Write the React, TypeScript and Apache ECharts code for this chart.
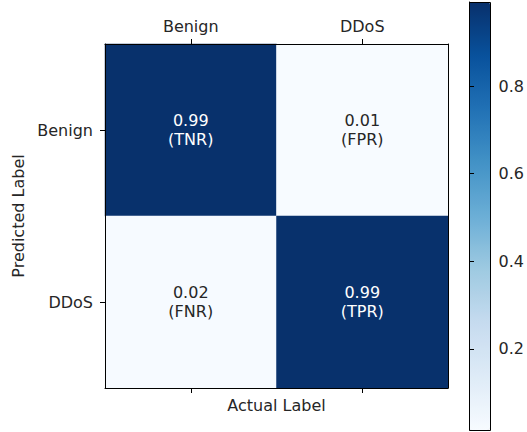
import React, { useEffect, useRef } from "react";
import * as echarts from "echarts";

const actualLabels = ["Benign", "DDoS"];
const predictedLabels = ["Benign", "DDoS"];
// rows = predicted, cols = actual
const matrixValues = [
  [0.99, 0.01],
  [0.02, 0.99],
];
const matrixTags = [
  ["TNR", "FPR"],
  ["FNR", "TPR"],
];
const colorbarMin = 0.015;
const colorbarMax = 0.992;
const colorbarTicks = [0.2, 0.4, 0.6, 0.8];
const blues = ["#f7fbff", "#deebf7", "#c6dbef", "#9ecae1", "#6baed6", "#4292c6", "#2171b5", "#08519c", "#08306b"];

const FONT = "DejaVu Sans";
const TEXT = "#262626";
const FS = 16;

export default function App() {
  const ref = useRef<HTMLDivElement>(null);
  useEffect(() => {
    if (!ref.current) return;
    const chart = echarts.init(ref.current, null, { renderer: "svg" });
    const data: any[] = [];
    matrixValues.forEach((row, yi) =>
      row.forEach((v, xi) => {
        data.push({
          value: [xi, yi, v],
          tag: matrixTags[yi][xi],
          label: { color: v > 0.5 ? "#ffffff" : TEXT },
        });
      })
    );
    const axisLineStyle = { color: "#000", width: 1 };
    chart.setOption({
      animation: false,
      backgroundColor: "#fff",
      textStyle: { fontFamily: FONT },
      grid: [
        { left: 105, top: 44, width: 343, height: 344 },
        { left: 469, top: 2, width: 21, height: 428 },
      ],
      xAxis: [
        {
          type: "category",
          gridIndex: 0,
          data: actualLabels,
          position: "top",
          z: 5,
          axisLine: { show: true, lineStyle: axisLineStyle },
          axisTick: { show: true, alignWithLabel: true, length: 5, lineStyle: { color: "#000" } },
          axisLabel: { fontSize: FS, color: TEXT, margin: 10, fontFamily: FONT },
          splitLine: { show: false },
        },
        {
          type: "category",
          gridIndex: 0,
          data: actualLabels,
          position: "bottom",
          z: 5,
          name: "Actual Label",
          nameLocation: "middle",
          nameGap: 9,
          nameTextStyle: { fontSize: FS, color: TEXT, fontFamily: FONT, verticalAlign: "top" },
          axisLine: { show: true, lineStyle: axisLineStyle },
          axisTick: { show: true, alignWithLabel: true, length: 5, lineStyle: { color: "#000" } },
          axisLabel: { show: false },
          splitLine: { show: false },
        },
        {
          type: "value",
          gridIndex: 1,
          show: false,
        },
      ],
      yAxis: [
        {
          type: "category",
          gridIndex: 0,
          data: predictedLabels,
          inverse: true,
          position: "left",
          z: 5,
          name: "Predicted Label",
          nameLocation: "middle",
          nameGap: 77,
          nameRotate: 90,
          nameTextStyle: { fontSize: FS, color: TEXT, fontFamily: FONT },
          axisLine: { show: true, lineStyle: axisLineStyle },
          axisTick: { show: true, alignWithLabel: true, length: 5, lineStyle: { color: "#000" } },
          axisLabel: { fontSize: FS, color: TEXT, margin: 12, fontFamily: FONT },
          splitLine: { show: false },
        },
        {
          type: "category",
          gridIndex: 0,
          data: predictedLabels,
          inverse: true,
          position: "right",
          z: 5,
          axisLine: { show: true, lineStyle: axisLineStyle },
          axisTick: { show: false },
          axisLabel: { show: false },
          splitLine: { show: false },
        },
        {
          type: "value",
          gridIndex: 1,
          position: "right",
          min: colorbarMin,
          max: colorbarMax,
          z: 5,
          axisLine: { show: true, lineStyle: axisLineStyle },
          axisTick: { show: true, length: 5, customValues: colorbarTicks, lineStyle: { color: "#000" } },
          axisLabel: {
            fontSize: FS,
            color: TEXT,
            margin: 12,
            fontFamily: FONT,
            customValues: colorbarTicks,
            formatter: (v: number) => v.toFixed(1),
          },
          splitLine: { show: false },
        },
      ],
      visualMap: {
        type: "continuous",
        min: colorbarMin,
        max: colorbarMax,
        seriesIndex: 0,
        calculable: false,
        hoverLink: false,
        orient: "vertical",
        left: 469,
        top: 2,
        itemWidth: 21,
        itemHeight: 428,
        padding: 0,
        inRange: { color: blues },
      },
      graphic: [
        {
          type: "rect",
          z: 100,
          shape: { x: 469.5, y: 2.5, width: 21, height: 428 },
          style: { fill: "none", stroke: "#000", lineWidth: 1 },
          silent: true,
        },
      ],
      series: [
        {
          type: "heatmap",
          xAxisIndex: 0,
          yAxisIndex: 0,
          data,
          label: {
            show: true,
            fontSize: FS,
            lineHeight: 19,
            fontFamily: FONT,
            formatter: (p: any) => `${p.value[2].toFixed(2)}\n(${p.data.tag})`,
          },
          itemStyle: { borderWidth: 0 },
          emphasis: { disabled: true },
        },
      ],
    });
    return () => chart.dispose();
  }, []);
  return <div ref={ref} style={{ position: "fixed", left: 0, top: 0, width: 527, height: 432 }} />;
}
